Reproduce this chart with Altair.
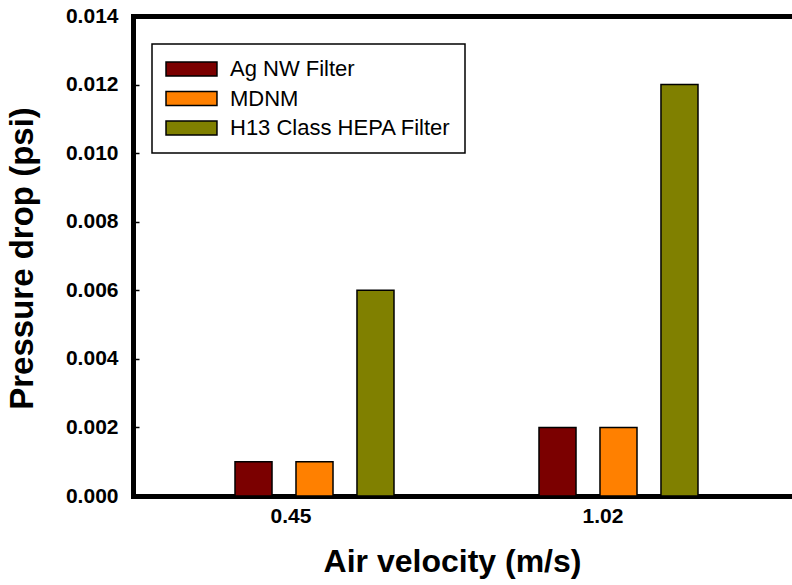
import altair as alt
import pandas as pd

# ---- data ----
velocities = ["0.45", "1.02"]
filters = ["Ag NW Filter", "MDNM", "H13 Class HEPA Filter"]
ag_nw = [0.001, 0.002]
mdnm = [0.001, 0.002]
hepa = [0.006, 0.012]
colors = ["#7B0000", "#FF8000", "#808000"]
y_ticks = [0.000, 0.002, 0.004, 0.006, 0.008, 0.010, 0.012, 0.014]

series = {filters[0]: ag_nw, filters[1]: mdnm, filters[2]: hepa}
rows = []
for f in filters:
    for v, val in zip(velocities, series[f]):
        rows.append({"velocity": v, "filter": f, "value": val})
df = pd.DataFrame(rows)

W, H = 659, 480
FONT = "Liberation Sans"

x_scale = alt.Scale(domain=velocities, paddingInner=0, paddingOuter=0.0839, align=0.196)
off_scale = alt.Scale(domain=filters, range=[92, 251], paddingInner=0.393, paddingOuter=0)
y_scale = alt.Scale(domain=[0, 0.014], nice=False, zero=True)

bars = alt.Chart(df).mark_bar(stroke="black", strokeWidth=1.5).encode(
    x=alt.X(
        "velocity:N", scale=x_scale, sort=velocities,
        axis=alt.Axis(
            title="Air velocity (m/s)", labelAngle=0, ticks=False,
            domainWidth=5, domainColor="black", domainCap="square",
            labelFontSize=21, labelFontWeight="bold", labelColor="black",
            labelPadding=9,
            labelOffset={"condition": {"test": "datum.value == '0.45'", "value": -4}, "value": 4},
            titleFontSize=32, titleFontWeight="bold",
            titleColor="black", titleX=319, titleY=75, titleAlign="center",
            titleBaseline="alphabetic",
        ),
    ),
    xOffset=alt.XOffset("filter:N", scale=off_scale, sort=filters),
    y=alt.Y(
        "value:Q", scale=y_scale,
        axis=alt.Axis(
            title="Pressure drop (psi)", values=y_ticks, format=".3f",
            ticks=False, grid=False, domainWidth=5, domainColor="black",
            domainCap="square", labelFontSize=21, labelFontWeight="bold",
            labelColor="black", labelPadding=15, titleFontSize=33,
            titleFontWeight="bold", titleColor="black", titleX=-101,
            titleY=242, titleAlign="center", titleBaseline="alphabetic",
        ),
    ),
    color=alt.Color(
        "filter:N",
        scale=alt.Scale(domain=filters, range=colors),
        legend=alt.Legend(
            title=None, orient="none", legendX=19, legendY=28,
            symbolType="M-1.57,-1L5.71,-1L5.71,1L-1.57,1Z",
            symbolSize=196, symbolStrokeColor="black", symbolStrokeWidth=1.5,
            symbolOpacity=1, labelFontSize=22, labelColor="black",
            labelOffset=42, labelLimit=400, rowPadding=7.5, padding=14,
            strokeColor="black", fillColor="white",
        ),
    ),
)

deco = alt.Chart(df).mark_bar(opacity=0).encode(
    x=alt.X(
        "velocity:N", scale=x_scale, sort=velocities,
        axis=alt.Axis(orient="top", labels=False, ticks=False, title=None,
                      domainWidth=5, domainColor="black", domainCap="square"),
    ),
    xOffset=alt.XOffset("filter:N", scale=off_scale, sort=filters),
    y=alt.Y(
        "value:Q", scale=y_scale,
        axis=alt.Axis(orient="right", offset=-W, labels=False, title=None,
                      domain=False, values=y_ticks, tickSize=6, tickWidth=1.5,
                      tickColor="black", grid=False),
    ),
)

chart = (
    alt.layer(bars, deco)
    .resolve_axis(x="independent", y="independent")
    .properties(
        width=W, height=H,
        autosize=alt.AutoSizeParams(type="none"),
        padding={"left": 133, "top": 16, "right": 0, "bottom": 89},
    )
    .configure(font=FONT)
    .configure_view(stroke=None)
    .configure_legend(strokeWidth=1.5)
)

chart.save("out.html", embed_options={"renderer": "svg", "actions": False})
